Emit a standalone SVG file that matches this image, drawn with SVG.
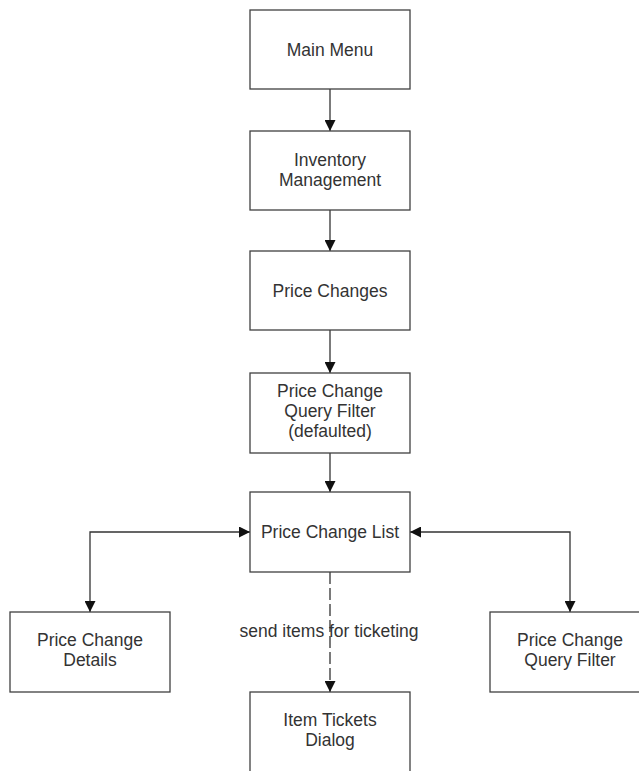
<svg xmlns="http://www.w3.org/2000/svg" width="639" height="771" viewBox="0 0 639 771">
<defs>
<style>
.box{fill:#fff;stroke:#404040;stroke-width:1.3}
.t{font-family:"Liberation Sans",Arial,sans-serif;font-size:17.5px;fill:#333;text-anchor:middle}
.c{fill:none;stroke:#333;stroke-width:1.3}
.d{stroke-dasharray:12 4}
</style>
<marker id="ah" viewBox="0 0 10 10" refX="10" refY="5" markerWidth="11" markerHeight="11" markerUnits="userSpaceOnUse" orient="auto-start-reverse">
<path d="M0,0 L10,5 L0,10 Z" fill="#111"/>
</marker>
</defs>
<rect width="639" height="771" fill="#fff"/>
<g id="connectors">
<line class="c" x1="330" y1="89" x2="330" y2="131" marker-end="url(#ah)"/>
<line class="c" x1="330" y1="210" x2="330" y2="251" marker-end="url(#ah)"/>
<line class="c" x1="330" y1="330" x2="330" y2="373" marker-end="url(#ah)"/>
<line class="c" x1="330" y1="453" x2="330" y2="492" marker-end="url(#ah)"/>
<polyline class="c" points="250,532 90,532 90,612" marker-start="url(#ah)" marker-end="url(#ah)"/>
<polyline class="c" points="410,532 570,532 570,612" marker-start="url(#ah)" marker-end="url(#ah)"/>
<line class="c d" x1="330" y1="572" x2="330" y2="692" marker-end="url(#ah)"/>
<text class="t" x="329" y="637">send items for ticketing</text>
</g>
<g id="main-menu">
<rect class="box" x="250" y="10" width="160" height="79"/>
<text class="t" x="330" y="56">Main Menu</text>
</g>
<g id="inventory-management">
<rect class="box" x="250" y="131" width="160" height="79"/>
<text class="t" x="330" y="166">Inventory</text>
<text class="t" x="330" y="186">Management</text>
</g>
<g id="price-changes">
<rect class="box" x="250" y="251" width="160" height="79"/>
<text class="t" x="330" y="297">Price Changes</text>
</g>
<g id="price-change-query-filter-defaulted">
<rect class="box" x="250" y="373" width="160" height="80"/>
<text class="t" x="330" y="397">Price Change</text>
<text class="t" x="330" y="417">Query Filter</text>
<text class="t" x="330" y="437">(defaulted)</text>
</g>
<g id="price-change-list">
<rect class="box" x="250" y="492" width="160" height="80"/>
<text class="t" x="330" y="538">Price Change List</text>
</g>
<g id="price-change-details">
<rect class="box" x="10" y="612" width="160" height="80"/>
<text class="t" x="90" y="646">Price Change</text>
<text class="t" x="90" y="666">Details</text>
</g>
<g id="price-change-query-filter">
<rect class="box" x="490" y="612" width="160" height="80"/>
<text class="t" x="570" y="646">Price Change</text>
<text class="t" x="570" y="666">Query Filter</text>
</g>
<g id="item-tickets-dialog">
<rect class="box" x="250" y="692" width="160" height="80"/>
<text class="t" x="330" y="726">Item Tickets</text>
<text class="t" x="330" y="746">Dialog</text>
</g>
</svg>
